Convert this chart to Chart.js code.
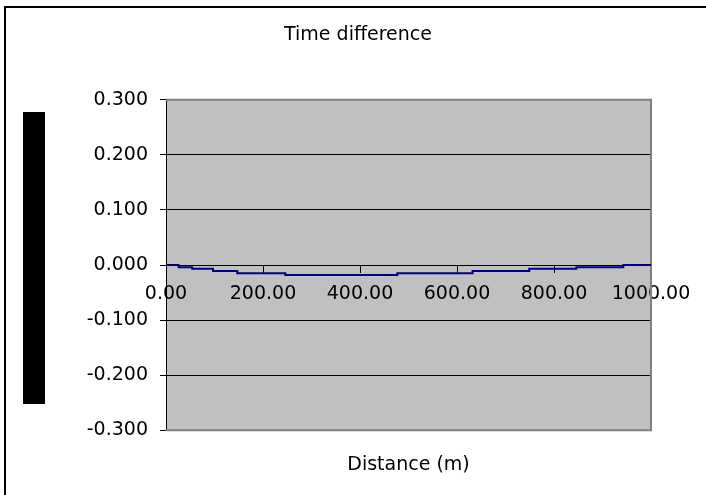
<!DOCTYPE html>
<html>
<head>
<meta charset="utf-8">
<title>Time difference</title>
<script src="https://cdn.jsdelivr.net/npm/chart.js@4/dist/chart.umd.min.js"></script>
<style>
  html, body { margin: 0; padding: 0; background: #fff; overflow: hidden; }
  #wrap { position: relative; width: 706px; height: 495px; }
  #frame { position: absolute; left: 4px; top: 6px; width: 720px; height: 510px;
           border-left: 2px solid #000; border-top: 2px solid #000; box-sizing: border-box; }
  #ytitle { position: absolute; left: 23px; top: 112px; width: 22px; height: 292px; background: #000; }
  canvas { position: absolute; left: 0; top: 0; }
</style>
</head>
<body>
<div id="wrap">
  <div id="frame"></div>
  <div id="ytitle"></div>
  <canvas id="chart" width="706" height="495"></canvas>
</div>
<script>
'use strict';

// --- Data ---
const distance = [0, 26, 54, 97, 147, 246, 477, 632, 749, 846, 943, 1000];
const timeDiff = [0, -0.004, -0.007, -0.011, -0.015, -0.018, -0.015, -0.011, -0.007, -0.004, 0, 0];
const xTicks = [0, 200, 400, 600, 800, 1000];
const yTicks = [-0.3, -0.2, -0.1, 0, 0.1, 0.2, 0.3];

const FONT = 'DejaVu Sans';
const FS = 19;

// grey plot area with darker frame, like the old spreadsheet look
const plotBg = {
  id: 'plotBg',
  beforeDraw(chart){
    const a = chart.chartArea, c = chart.ctx;
    c.save();
    c.fillStyle = '#c0c0c0';
    c.fillRect(a.left, a.top, a.right - a.left, a.bottom - a.top);
    c.restore();
  },
  beforeDatasetsDraw(chart){
    const a = chart.chartArea, c = chart.ctx;
    c.save();
    c.strokeStyle = '#808080';
    c.lineWidth = 2;
    c.beginPath();
    c.moveTo(a.left, a.top);
    c.lineTo(a.right, a.top);
    c.lineTo(a.right, a.bottom);
    c.lineTo(a.left, a.bottom);
    c.stroke();
    c.restore();
  }
};

const points = distance.map((x, i) => ({ x, y: timeDiff[i] }));
const hidden = { display: false };

new Chart(document.getElementById('chart'), {
  type: 'scatter',
  data: {
    datasets: [{
      data: points,
      showLine: true,
      stepped: 'before',
      borderColor: '#000080',
      borderWidth: 2,
      pointRadius: 0,
      fill: false
    }]
  },
  options: {
    responsive: false,
    animation: false,
    events: [],
    layout: { padding: { left: 10, right: 0, top: 0, bottom: 0 } },
    plugins: {
      legend: { display: false },
      tooltip: { enabled: false },
      title: {
        display: true,
        text: 'Time difference',
        color: '#000',
        font: { family: FONT, size: FS, weight: 'normal' },
        padding: { top: 24, bottom: 53 }
      }
    },
    scales: {
      x: {
        type: 'linear',
        position: { y: 0 },
        min: 0,
        max: 1000,
        afterBuildTicks(scale){ scale.ticks = xTicks.map(v => ({ value: v })); },
        ticks: {
          color: '#000',
          font: { family: FONT, size: FS },
          padding: 11,
          autoSkip: false,
          maxRotation: 0,
          callback: v => Number(v).toFixed(2)
        },
        grid: { drawOnChartArea: false, drawTicks: true, tickLength: 7, tickColor: '#000' },
        border: { display: true, color: '#000', width: 1 }
      },
      // bottom axis only carries the axis title, centred under the plot
      xTitle: {
        axis: 'x',
        type: 'linear',
        position: 'bottom',
        min: 0,
        max: 1000,
        ticks: hidden,
        grid: { display: false, drawTicks: false },
        border: hidden,
        title: {
          display: true,
          text: 'Distance (m)',
          color: '#000',
          font: { family: FONT, size: FS },
          padding: { top: 23, bottom: 19 }
        }
      },
      y: {
        type: 'linear',
        position: 'left',
        min: -0.3,
        max: 0.3,
        afterBuildTicks(scale){ scale.ticks = yTicks.map(v => ({ value: v })); },
        afterFit(scale){ scale.width = 156; },
        ticks: {
          color: '#000',
          font: { family: FONT, size: FS },
          padding: 12,
          callback: v => (Math.abs(v) < 1e-9 ? 0 : Number(v)).toFixed(3)
        },
        grid: {
          color: ctx => (ctx.tick && Math.abs(Math.abs(ctx.tick.value) - 0.3) < 1e-6) ? 'rgba(0,0,0,0)' : '#000',
          lineWidth: 1,
          tickLength: 6,
          tickColor: '#000'
        },
        border: { display: true, color: '#000', width: 1 }
      },
      // empty right margin
      yPad: {
        axis: 'y',
        type: 'linear',
        position: 'right',
        min: -0.3,
        max: 0.3,
        afterFit(scale){ scale.width = 55; },
        ticks: hidden,
        grid: { display: false, drawTicks: false },
        border: hidden
      }
    }
  },
  plugins: [plotBg]
});
</script>
</body>
</html>
